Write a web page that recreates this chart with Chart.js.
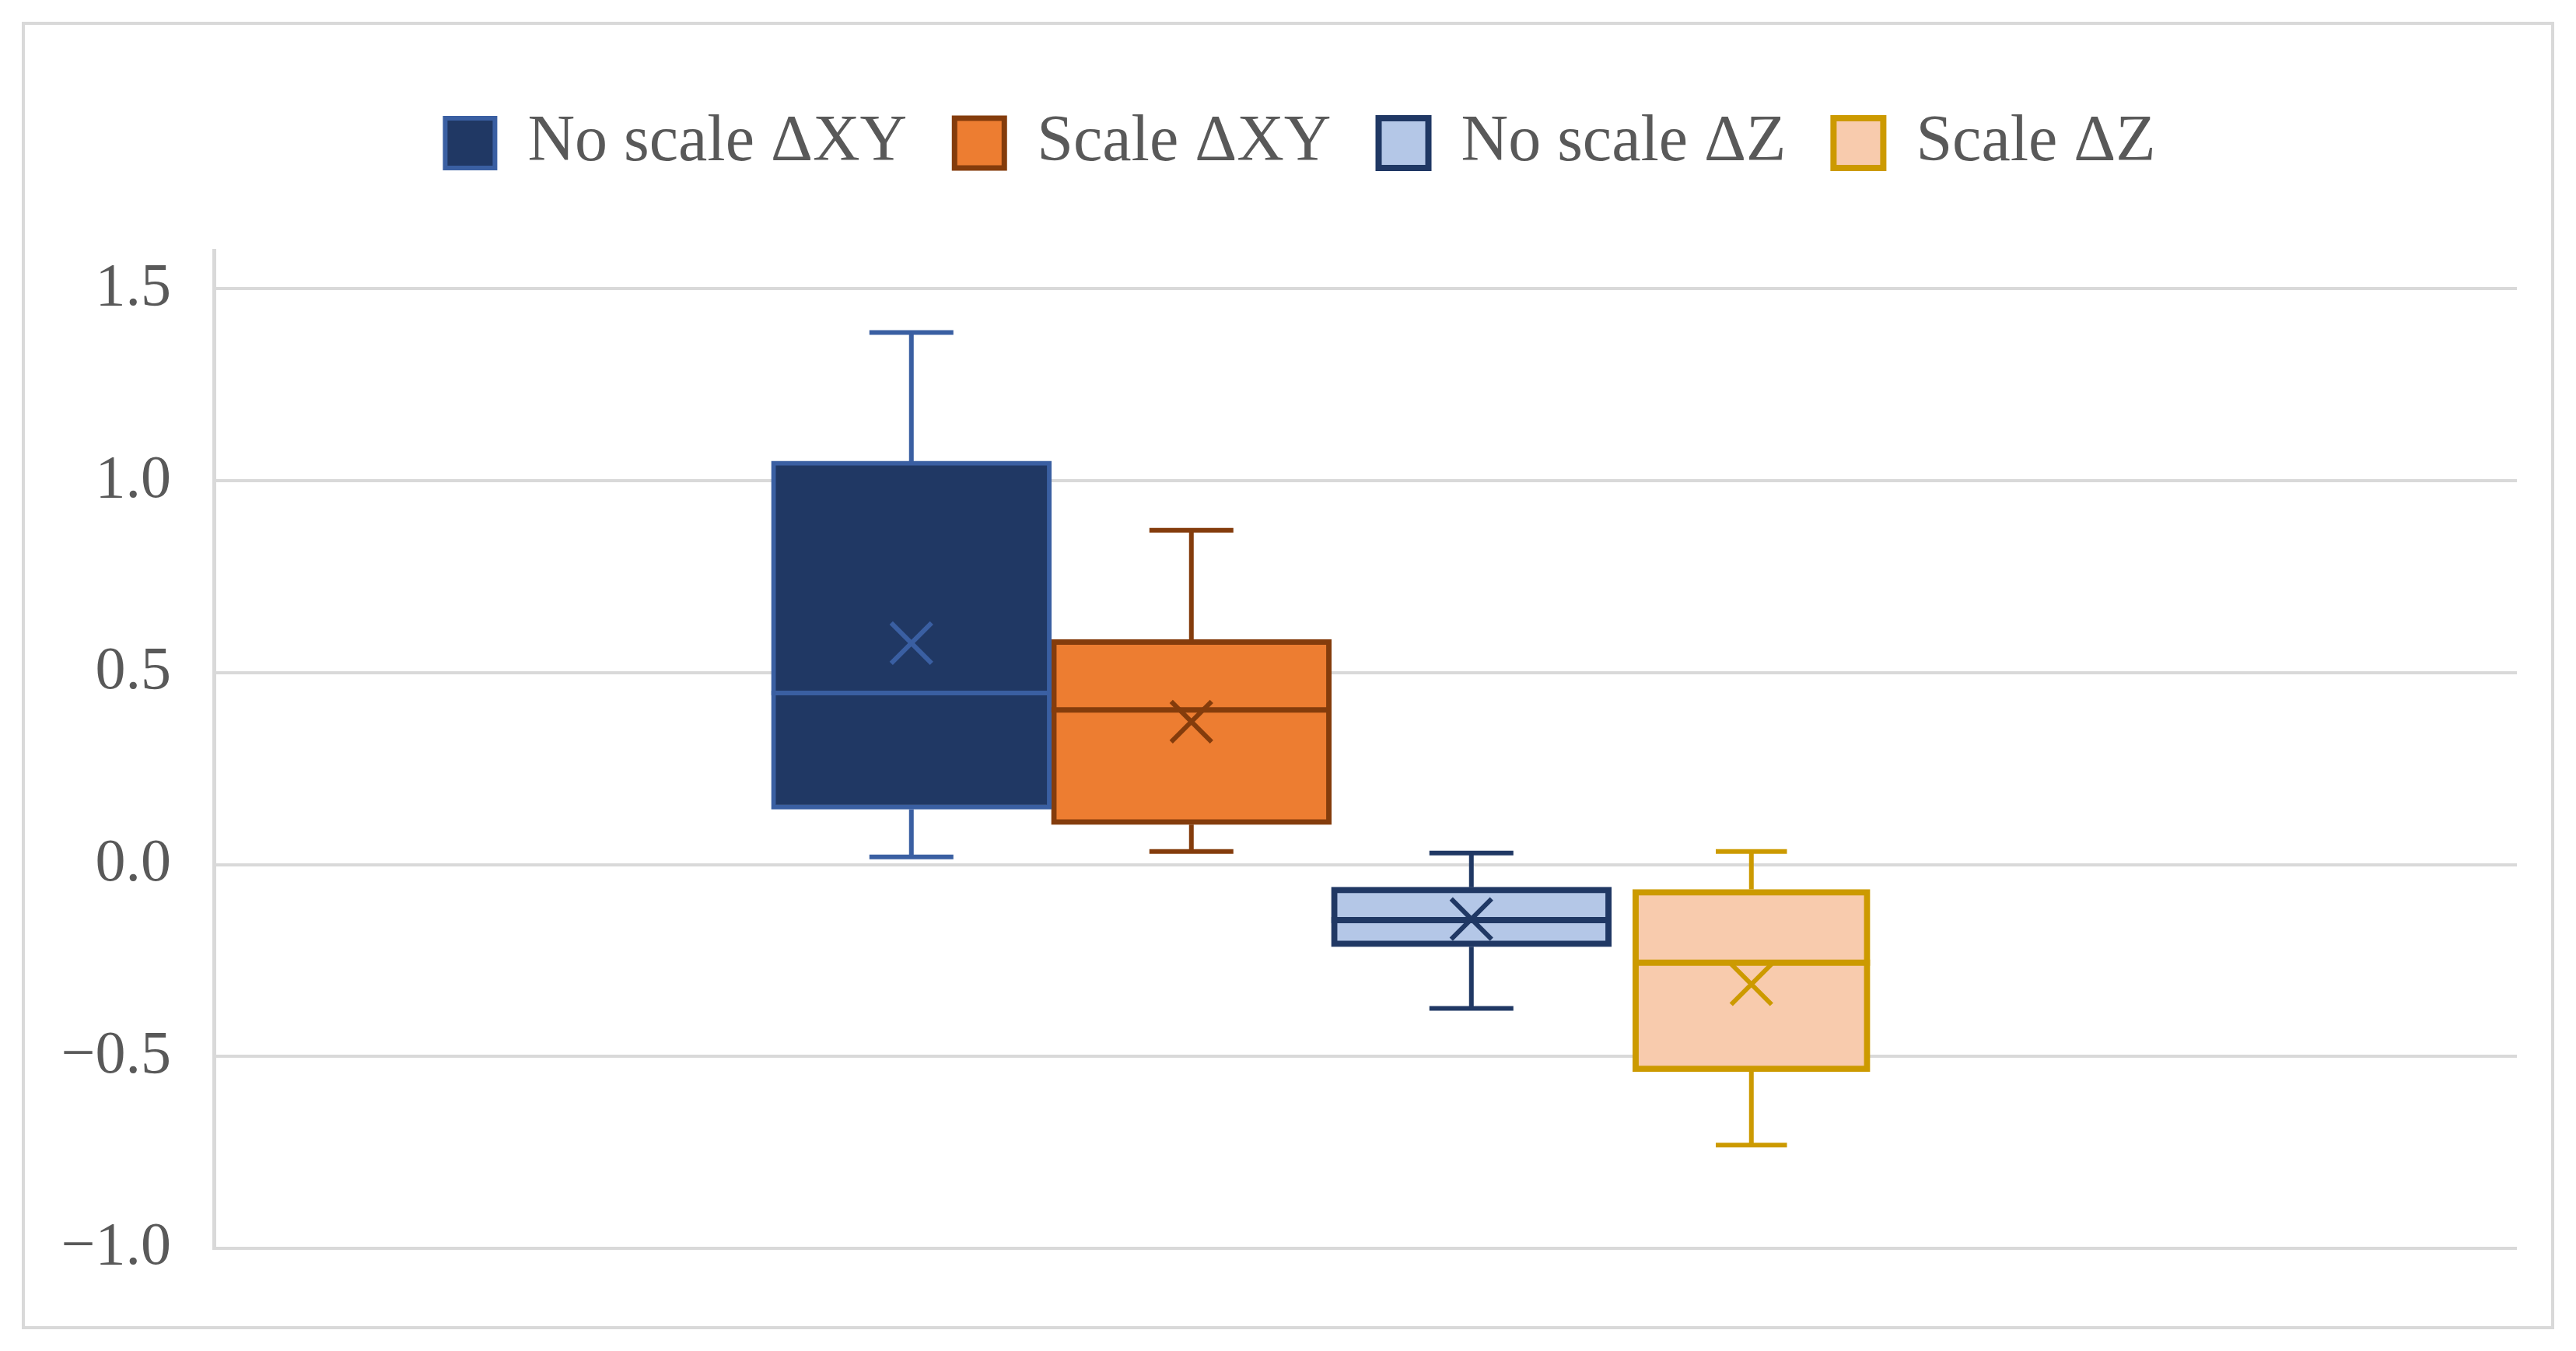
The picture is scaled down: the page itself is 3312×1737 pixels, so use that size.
<!DOCTYPE html>
<html>
<head>
<meta charset="utf-8">
<script src="https://cdn.jsdelivr.net/npm/chart.js@4.4.0/dist/chart.umd.min.js"></script>
<style>
    body { margin: 0; background: #ffffff; }
    #boxChart { display: block; }
</style>
</head>
<body>
<canvas id="boxChart" width="3312" height="1737"></canvas>
<script>
// 데이터
const seriesNames = ['No scale ΔXY', 'Scale ΔXY', 'No scale ΔZ', 'Scale ΔZ'];
const minValues = [0.02, 0.034, -0.375, -0.731];
const q1Values = [0.144, 0.104, -0.214, -0.54];
const medianValues = [0.447, 0.403, -0.145, -0.256];
const q3Values = [1.051, 0.586, -0.059, -0.065];
const maxValues = [1.386, 0.871, 0.03, 0.034];
const meanValues = [0.577, 0.372, -0.142, -0.312];
const yTickValues = [-1.0, -0.5, 0.0, 0.5, 1.0, 1.5];
const yTickLabels = ['\u22121.0', '\u22120.5', '0.0', '0.5', '1.0', '1.5'];

// 색상 / 스타일
const fillColors = ['#203864', '#ED7D31', '#B4C7E7', '#F8CBAD'];
const lineColors = ['#3A5FA2', '#843C0C', '#203864', '#CC9A00'];
const boxBorderWidths = [6, 7, 8, 8];
const boxMaxThickness = [362, 362, 362, 305];

const textColor = '#595959';
const gridColor = '#D9D9D9';

// 바깥 테두리
const framePlugin = {
    id: 'frame',
    beforeDraw(chart) {
        const ctx = chart.ctx;
        ctx.save();
        ctx.fillStyle = '#ffffff';
        ctx.fillRect(0, 0, chart.width, chart.height);
        ctx.strokeStyle = gridColor;
        ctx.lineWidth = 4;
        ctx.strokeRect(30, 30, chart.width - 60, chart.height - 60);
        ctx.restore();
    }
};

// 범례 아래 여백 + 가로 위치 보정
const legendMargin = {
    id: 'legendMargin',
    beforeInit(chart) {
        const fitValue = chart.legend.fit;
        chart.legend.fit = function fit() {
            fitValue.bind(chart.legend)();
            this.height += 86;
        };
    },
    afterLayout(chart) {
        chart.legend.left += 54;
        chart.legend.right += 54;
    }
};

// 수염, 중앙값, 평균(X) 그리기
const whiskerPlugin = {
    id: 'whiskers',
    afterDatasetsDraw(chart) {
        const ctx = chart.ctx;
        const yScale = chart.scales.y;
        ctx.save();
        chart.data.datasets.forEach((ds, i) => {
            const bar = chart.getDatasetMeta(i).data[0];
            if (!bar) return;
            const x = bar.x;
            const half = bar.width / 2;
            const cap = bar.width * 0.15;
            const yMin = yScale.getPixelForValue(minValues[i]);
            const yQ1 = yScale.getPixelForValue(q1Values[i]);
            const yMed = yScale.getPixelForValue(medianValues[i]);
            const yQ3 = yScale.getPixelForValue(q3Values[i]);
            const yMax = yScale.getPixelForValue(maxValues[i]);
            const yMean = yScale.getPixelForValue(meanValues[i]);

            ctx.strokeStyle = lineColors[i];
            ctx.lineCap = 'butt';

            // 수염
            ctx.lineWidth = 6;
            ctx.beginPath();
            ctx.moveTo(x, yQ3);
            ctx.lineTo(x, yMax);
            ctx.moveTo(x - cap, yMax);
            ctx.lineTo(x + cap, yMax);
            ctx.moveTo(x, yQ1);
            ctx.lineTo(x, yMin);
            ctx.moveTo(x - cap, yMin);
            ctx.lineTo(x + cap, yMin);
            ctx.stroke();

            // 중앙값
            ctx.lineWidth = boxBorderWidths[i];
            ctx.beginPath();
            ctx.moveTo(x - half, yMed);
            ctx.lineTo(x + half, yMed);
            ctx.stroke();

            // 평균 X 표시
            const r = 26;
            ctx.lineWidth = 6;
            ctx.beginPath();
            ctx.moveTo(x - r, yMean - r);
            ctx.lineTo(x + r, yMean + r);
            ctx.moveTo(x - r, yMean + r);
            ctx.lineTo(x + r, yMean - r);
            ctx.stroke();
        });
        ctx.restore();
    }
};

function initBoxChart() {
    const canvas = document.getElementById('boxChart');
    const ctx = canvas.getContext('2d');

    const datasets = seriesNames.map((name, i) => ({
        label: name,
        data: [{ x: 0, y: [q1Values[i], q3Values[i]] }],
        backgroundColor: fillColors[i],
        borderColor: lineColors[i],
        borderWidth: boxBorderWidths[i],
        borderSkipped: false,
        barThickness: 360,
        maxBarThickness: boxMaxThickness[i]
    }));

    new Chart(ctx, {
        type: 'bar',
        data: {
            datasets: datasets
        },
        options: {
            responsive: false,
            animation: false,
            devicePixelRatio: 1,
            layout: {
                padding: { left: 0, right: 76, top: 81, bottom: 132 }
            },
            plugins: {
                legend: {
                    display: true,
                    position: 'top',
                    labels: {
                        boxWidth: 64,
                        boxHeight: 64,
                        padding: 61,
                        color: textColor,
                        font: { family: '"Liberation Serif", serif', size: 84 }
                    }
                },
                tooltip: { enabled: false }
            },
            scales: {
                x: {
                    type: 'linear',
                    min: -1,
                    max: 1.0735,
                    display: false
                },
                y: {
                    min: -1.0,
                    max: 1.6,
                    afterBuildTicks: (scale) => {
                        scale.ticks = yTickValues.map(v => ({ value: v }));
                    },
                    afterFit: (scale) => {
                        scale.width = 275;
                    },
                    grid: {
                        color: gridColor,
                        lineWidth: 4,
                        drawTicks: false
                    },
                    border: {
                        display: true,
                        color: gridColor,
                        width: 5
                    },
                    ticks: {
                        padding: 55,
                        color: textColor,
                        font: { family: '"Liberation Serif", serif', size: 78 },
                        callback: function(value) {
                            const idx = yTickValues.indexOf(value);
                            return idx >= 0 ? yTickLabels[idx] : '';
                        }
                    }
                }
            }
        },
        plugins: [framePlugin, legendMargin, whiskerPlugin]
    });
}

document.addEventListener('DOMContentLoaded', initBoxChart);
</script>
</body>
</html>
